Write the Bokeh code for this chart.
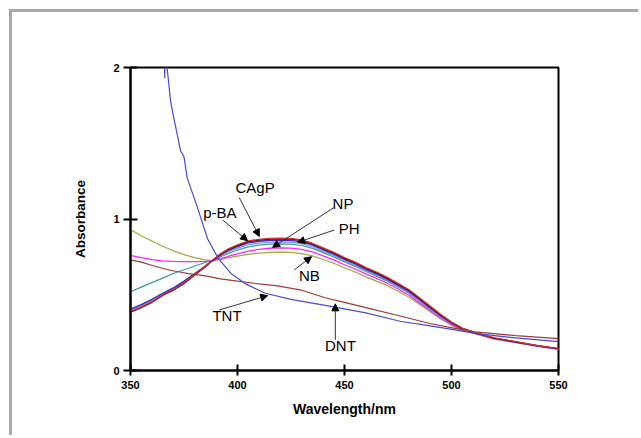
from bokeh.plotting import figure
from bokeh.layouts import column
from bokeh.models import Arrow, NormalHead, Label, FixedTicker, Range1d
from bokeh.embed import file_html
from bokeh.resources import INLINE

# ---------------- data ----------------
wl = [350, 355, 360, 365, 370, 375, 380, 385, 388, 392, 396, 400, 405, 410, 415, 420,
      425, 430, 435, 440, 445, 450, 455, 460, 465, 470, 475, 480, 485, 490, 495, 500,
      505, 510, 515, 520, 530, 540, 550]

cagp = [0.39, 0.42, 0.455, 0.50, 0.535, 0.58, 0.635, 0.69, 0.725, 0.77, 0.805, 0.83, 0.855,
        0.866, 0.872, 0.874, 0.872, 0.862, 0.84, 0.81, 0.78, 0.745, 0.715, 0.68, 0.65, 0.615,
        0.575, 0.535, 0.48, 0.425, 0.37, 0.32, 0.28, 0.255, 0.235, 0.215, 0.19, 0.165, 0.145]
pba = [0.385, 0.415, 0.45, 0.495, 0.53, 0.575, 0.63, 0.685, 0.722, 0.766, 0.80, 0.825, 0.85,
       0.861, 0.867, 0.869, 0.867, 0.857, 0.835, 0.805, 0.775, 0.74, 0.71, 0.675, 0.645, 0.61,
       0.57, 0.53, 0.475, 0.42, 0.366, 0.317, 0.278, 0.254, 0.234, 0.214, 0.189, 0.164, 0.144]
np_ = [0.405, 0.435, 0.47, 0.51, 0.545, 0.59, 0.64, 0.69, 0.724, 0.763, 0.795, 0.818, 0.842,
       0.853, 0.859, 0.861, 0.859, 0.849, 0.828, 0.798, 0.768, 0.733, 0.703, 0.668, 0.638, 0.603,
       0.563, 0.523, 0.47, 0.415, 0.362, 0.314, 0.276, 0.253, 0.233, 0.213, 0.188, 0.163, 0.143]
ph = [0.40, 0.43, 0.465, 0.505, 0.54, 0.585, 0.637, 0.688, 0.723, 0.758, 0.787, 0.808, 0.83,
      0.841, 0.847, 0.849, 0.847, 0.837, 0.817, 0.788, 0.758, 0.724, 0.694, 0.66, 0.63, 0.596,
      0.557, 0.517, 0.465, 0.41, 0.358, 0.311, 0.274, 0.252, 0.232, 0.212, 0.188, 0.163, 0.143]
teal = [0.52, 0.55, 0.58, 0.61, 0.64, 0.665, 0.69, 0.713, 0.725, 0.75, 0.775, 0.795, 0.816,
        0.828, 0.834, 0.836, 0.834, 0.825, 0.806, 0.778, 0.749, 0.716, 0.687, 0.653, 0.623, 0.59,
        0.551, 0.511, 0.46, 0.406, 0.355, 0.309, 0.273, 0.251, 0.231, 0.211, 0.187, 0.162, 0.142]
magenta = [0.76, 0.745, 0.732, 0.724, 0.72, 0.718, 0.718, 0.72, 0.723, 0.737, 0.755, 0.77, 0.788,
           0.80, 0.807, 0.81, 0.808, 0.80, 0.783, 0.757, 0.73, 0.698, 0.67, 0.638, 0.608, 0.576,
           0.538, 0.498, 0.448, 0.396, 0.347, 0.303, 0.269, 0.249, 0.229, 0.209, 0.186, 0.161, 0.141]
nb = [0.93, 0.89, 0.855, 0.82, 0.79, 0.765, 0.745, 0.73, 0.726, 0.733, 0.745, 0.755, 0.767,
      0.775, 0.78, 0.782, 0.78, 0.772, 0.757, 0.733, 0.708, 0.677, 0.65, 0.618, 0.59, 0.56,
      0.523, 0.485, 0.437, 0.388, 0.34, 0.298, 0.266, 0.247, 0.227, 0.207, 0.184, 0.16, 0.14]

tnt_wl = [365.8, 366.0, 366.2, 367.1, 368.7, 370.2, 373.4, 375.0, 376.5, 381.2, 386, 391, 394,
          397, 404, 413, 425, 441, 460, 476, 490, 501, 511, 530, 550]
tnt = [2.08, 1.93, 2.08, 2.0, 1.78, 1.67, 1.45, 1.41, 1.27, 1.08, 0.87, 0.74, 0.69, 0.64, 0.57,
       0.51, 0.47, 0.43, 0.38, 0.325, 0.295, 0.27, 0.245, 0.215, 0.19]

dnt_wl = [350, 355, 361, 365, 369, 373, 377, 385, 392, 400, 411, 418, 430, 441, 450, 460, 476,
          490, 501, 511, 530, 550]
dnt = [0.73, 0.715, 0.69, 0.675, 0.66, 0.65, 0.64, 0.625, 0.605, 0.59, 0.57, 0.56, 0.53, 0.48,
       0.45, 0.415, 0.36, 0.31, 0.28, 0.255, 0.23, 0.21]

x_ticks = [350, 400, 450, 500, 550]
y_ticks = [0, 1, 2]

labels = ["CAgP", "p-BA", "NP", "PH", "NB", "TNT", "DNT"]
label_x = [408.2, 391.8, 449.3, 452.2, 433.6, 395.1, 448.1]
label_y = [1.208, 1.04, 1.10, 0.936, 0.626, 0.362, 0.163]
arrow_x0 = [400.8, 393.1, 445.2, 445.2, 426.5, 391.5, 445.7]
arrow_y0 = [1.142, 0.993, 1.077, 0.927, 0.664, 0.40, 0.202]
arrow_x1 = [410.2, 404.7, 416.4, 428.1, 434.6, 414.1, 445.7]
arrow_y1 = [0.885, 0.857, 0.813, 0.846, 0.751, 0.494, 0.44]

# ---------------- figure ----------------
FONT = "Liberation Sans"
p = figure(width=629, height=426, output_backend="svg", toolbar_location=None,
           x_range=Range1d(350, 550), y_range=Range1d(0, 2),
           min_border_left=118, min_border_right=83, min_border_top=55, min_border_bottom=68)
p.styles = {"border-top": "3px solid #a8a8a8", "border-left": "3px solid #a8a8a8"}
p.xgrid.visible = False
p.ygrid.visible = False
p.outline_line_color = "black"
p.outline_line_width = 2
p.outline_line_alpha = 1

p.xaxis.ticker = FixedTicker(ticks=x_ticks)
p.yaxis.ticker = FixedTicker(ticks=y_ticks)
for ax in (p.xaxis[0], p.yaxis[0]):
    ax.axis_line_width = 2
    ax.axis_line_color = "black"
    ax.major_tick_line_width = 2
    ax.major_tick_line_color = "black"
    ax.minor_tick_line_color = None
    ax.major_label_text_font = FONT
    ax.major_label_text_font_style = "bold"
    ax.major_label_text_font_size = "11px"
    ax.major_label_text_color = "black"
    ax.axis_label_text_font = FONT
    ax.axis_label_text_font_style = "bold"
    ax.axis_label_text_color = "black"

p.xaxis.major_tick_in = 6
p.xaxis.major_tick_out = 5
p.xaxis.major_label_standoff = 5
p.xaxis.axis_label = "Wavelength/nm"
p.xaxis.axis_label_text_font_size = "14px"
p.xaxis.axis_label_standoff = 9

p.yaxis.major_tick_in = 7
p.yaxis.major_tick_out = 7
p.yaxis.major_label_standoff = 4
p.yaxis.axis_label = "Absorbance"
p.yaxis.axis_label_text_font_size = "13.5px"
p.yaxis.axis_label_standoff = 22

# curves
p.line(wl, nb, line_color="#a6a63f", line_width=1.2)
p.line(wl, magenta, line_color="#ff22ff", line_width=1.3)
p.line(wl, teal, line_color="#3c9c9c", line_width=1.2)
p.line(wl, ph, line_color="#7d8fe0", line_width=1.2)
p.line(wl, np_, line_color="#2b2bd6", line_width=1.3)
p.line(wl, pba, line_color="#3a0d0d", line_width=1.3)
p.line(wl, cagp, line_color="#e02828", line_width=1.3)
p.line(dnt_wl, dnt, line_color="#9b3b3b", line_width=1.2)
p.line(tnt_wl, tnt, line_color="#4a4ad0", line_width=1.2)

# annotations
for t, lx, ly in zip(labels, label_x, label_y):
    p.add_layout(Label(x=lx, y=ly, text=t, text_font=FONT, text_font_size="15px",
                       text_color="black", text_align="center", text_baseline="middle"))
for x0, y0, x1, y1 in zip(arrow_x0, arrow_y0, arrow_x1, arrow_y1):
    p.add_layout(Arrow(x_start=x0, y_start=y0, x_end=x1, y_end=y1,
                       line_color="#333333", line_width=1,
                       end=NormalHead(size=7, fill_color="black", line_color="black", line_width=1)))

root = column(p, styles={"padding-top": "9px", "padding-left": "9px"})
open("out.html", "w").write(file_html(root, INLINE))
